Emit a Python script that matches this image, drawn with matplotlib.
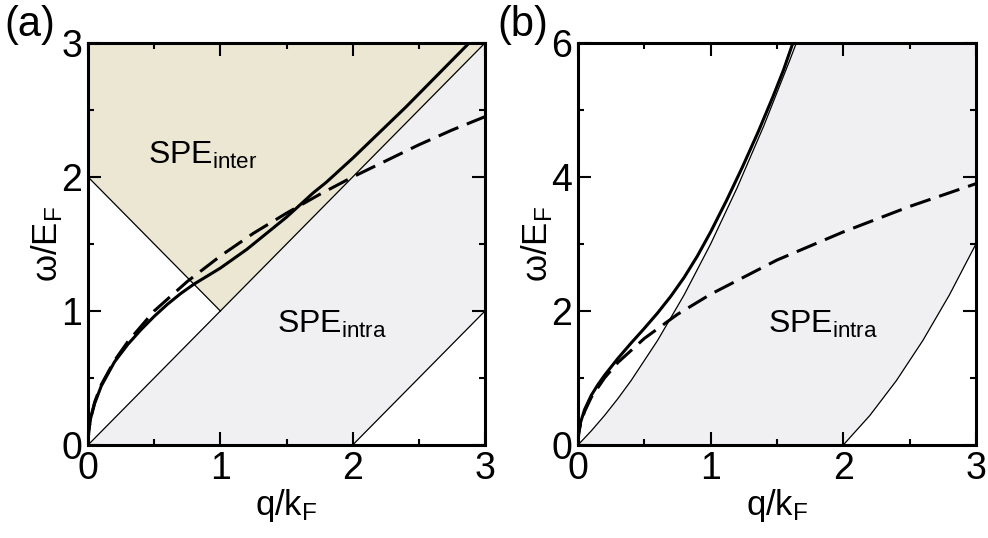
import matplotlib
matplotlib.use("Agg")
import matplotlib.pyplot as plt
from matplotlib.ticker import MultipleLocator

plt.rcParams["font.family"] = ["Liberation Sans", "DejaVu Sans"]
plt.rcParams["mathtext.default"] = "regular"

# (a) Dirac electrons: single-particle continua and plasmon branches
intra_a_q = [0, 3, 3, 2]
intra_a_w = [0, 3, 1, 0]
inter_a_q = [0, 0, 3, 1]
inter_a_w = [2, 3, 3, 1]

diag_q = [0, 3]
diag_w = [0, 3]
inter_edge_q = [0, 1]
inter_edge_w = [2, 1]
intra_low_a_q = [2, 3]
intra_low_a_w = [0, 1]

plasmon_a_q = [0, 0.005, 0.02, 0.05, 0.1, 0.2, 0.3, 0.4, 0.5, 0.6, 0.7, 0.8,
               0.9, 1.0, 1.1, 1.2, 1.3, 1.4, 1.5, 1.6, 1.7, 1.8, 1.9, 2.0,
               2.2, 2.4, 2.6, 2.8, 2.88]
plasmon_a_w = [0, 0.1, 0.2, 0.31, 0.44, 0.62, 0.75, 0.86, 0.96, 1.05, 1.13, 1.2,
               1.26, 1.32, 1.39, 1.46, 1.54, 1.62, 1.70, 1.79, 1.88, 1.96, 2.05, 2.14,
               2.33, 2.52, 2.72, 2.92, 3.0]

approx_a_q = [0, 0.005, 0.01, 0.02, 0.05, 0.1, 0.2, 0.3, 0.5, 0.75, 1.0, 1.25,
              1.5, 1.75, 2.0, 2.25, 2.5, 2.75, 3.0]
approx_a_w = [0, 0.1, 0.14, 0.2, 0.32, 0.45, 0.63, 0.77, 1.0, 1.22, 1.41, 1.58,
              1.73, 1.87, 2.0, 2.12, 2.24, 2.35, 2.45]

# (b) parabolic band
upper_b_q = [0, 0.1, 0.2, 0.3, 0.4, 0.6, 0.8, 1.0, 1.2, 1.4, 1.6, 1.646]
upper_b_w = [0, 0.21, 0.44, 0.69, 0.96, 1.56, 2.24, 3.0, 3.84, 4.76, 5.76, 6.0]
lower_b_q = [2.0, 2.2, 2.4, 2.6, 2.8, 3.0]
lower_b_w = [0, 0.44, 0.96, 1.56, 2.24, 3.0]

plasmon_b_q = [0, 0.005, 0.02, 0.05, 0.1, 0.15, 0.2, 0.3, 0.4, 0.5, 0.6, 0.7,
               0.8, 0.9, 1.0, 1.12, 1.24, 1.36, 1.47, 1.55, 1.62]
plasmon_b_w = [0, 0.17, 0.34, 0.53, 0.74, 0.9, 1.04, 1.29, 1.52, 1.74, 1.97, 2.22,
               2.5, 2.82, 3.18, 3.65, 4.15, 4.68, 5.2, 5.6, 6.0]

approx_b_q = [0, 0.005, 0.01, 0.02, 0.05, 0.1, 0.2, 0.3, 0.5, 0.75, 1.0, 1.5,
              2.0, 2.5, 3.0]
approx_b_w = [0, 0.16, 0.22, 0.32, 0.5, 0.71, 1.0, 1.23, 1.59, 1.95, 2.25, 2.76,
              3.18, 3.56, 3.9]

BEIGE = "#ece7d3"
GREY = "#f0f0f3"
TICK_FS = 27
LABEL_FS = 25
TEXT_FS = 23
DASH = (7, 3)


def style_axes(ax, ymax, ymajor, yminor):
    ax.set_xlim(0, 3)
    ax.set_ylim(0, ymax)
    ax.xaxis.set_major_locator(MultipleLocator(1))
    ax.xaxis.set_minor_locator(MultipleLocator(0.5))
    ax.yaxis.set_major_locator(MultipleLocator(ymajor))
    ax.yaxis.set_minor_locator(MultipleLocator(yminor))
    ax.tick_params(which="both", direction="in", top=True, right=True,
                   labelsize=TICK_FS, width=1.5, pad=4)
    ax.tick_params(which="major", length=9.5)
    ax.tick_params(which="minor", length=4.5)
    for s in ax.spines.values():
        s.set_linewidth(2.2)
        s.set_zorder(10)
    ax.set_xlabel("q/k$_F$", fontsize=LABEL_FS)
    ax.set_ylabel("ω/E$_F$", fontsize=LABEL_FS)
    ax.xaxis.set_label_coords(0.5, -0.105)
    ax.yaxis.set_label_coords(-0.058, 0.5)


fig = plt.figure(figsize=(9.88, 5.38), dpi=100)
ax1 = fig.add_axes([0.0891, 0.1729, 0.4018, 0.7472])
ax2 = fig.add_axes([0.5850, 0.1729, 0.4028, 0.7472])

# panel (a)
ax1.fill(intra_a_q, intra_a_w, color=GREY, lw=0, zorder=1)
ax1.fill(inter_a_q, inter_a_w, color=BEIGE, lw=0, zorder=1)
for xs, ys in [(diag_q, diag_w), (inter_edge_q, inter_edge_w),
               (intra_low_a_q, intra_low_a_w)]:
    ax1.plot(xs, ys, color="black", lw=0.9, zorder=2)
ax1.plot(approx_a_q, approx_a_w, color="black", lw=2.2, dashes=DASH, zorder=3)
ax1.plot(plasmon_a_q, plasmon_a_w, color="black", lw=2.2, zorder=4)
ax1.text(0.45, 2.10, "SPE$_{inter}$", fontsize=TEXT_FS, ha="left", va="baseline")
ax1.text(1.43, 0.84, "SPE$_{intra}$", fontsize=TEXT_FS, ha="left", va="baseline")
style_axes(ax1, 3, 1, 0.5)

# panel (b)
spe_q = upper_b_q + [3, 3] + lower_b_q[::-1]
spe_w = upper_b_w + [6, lower_b_w[-1]] + lower_b_w[::-1]
ax2.fill(spe_q, spe_w, color=GREY, lw=0, zorder=1)
ax2.plot(upper_b_q, upper_b_w, color="black", lw=0.9, zorder=2)
ax2.plot(lower_b_q, lower_b_w, color="black", lw=0.9, zorder=2)
ax2.plot(approx_b_q, approx_b_w, color="black", lw=2.2, dashes=DASH, zorder=3)
ax2.plot(plasmon_b_q, plasmon_b_w, color="black", lw=2.2, zorder=4)
ax2.text(1.43, 1.67, "SPE$_{intra}$", fontsize=TEXT_FS, ha="left", va="baseline")
style_axes(ax2, 6, 2, 1)

fig.text(0.004, 0.99, "(a)", fontsize=30, ha="left", va="top")
fig.text(0.503, 0.99, "(b)", fontsize=30, ha="left", va="top")

fig.savefig("out.png", dpi=100)
